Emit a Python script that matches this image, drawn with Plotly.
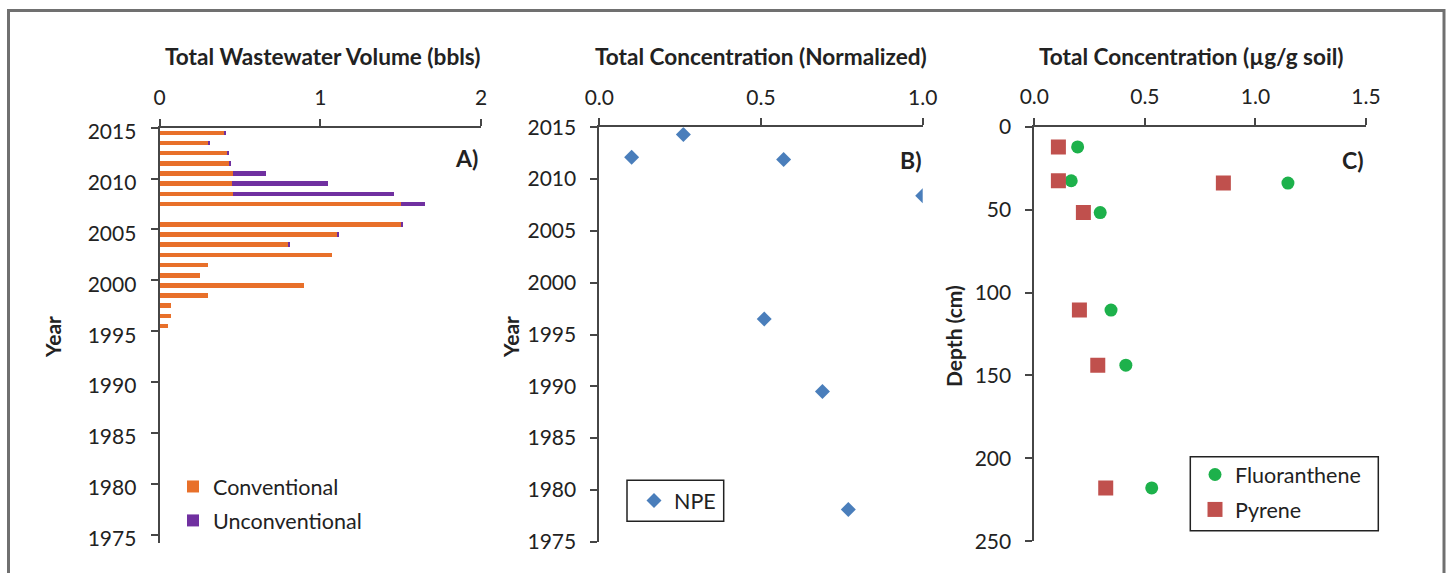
import plotly.graph_objects as go

# ---- Panel A: wastewater volume by year (bbls) ----
years_a = [1995, 1996, 1997, 1998, 1999, 2000, 2001, 2002, 2003, 2004, 2005,
           2007, 2008, 2009, 2010, 2011, 2012, 2013, 2014]
conventional = [0.05, 0.07, 0.07, 0.30, 0.90, 0.25, 0.30, 1.07, 0.80, 1.105, 1.505,
                1.50, 0.46, 0.45, 0.46, 0.43, 0.42, 0.30, 0.40]
unconventional = [0.0, 0.0, 0.0, 0.0, 0.0, 0.0, 0.0, 0.0, 0.01, 0.007, 0.007,
                  0.15, 1.00, 0.60, 0.20, 0.011, 0.011, 0.009, 0.01]

# ---- Panel B: normalized NPE concentration by year ----
npe_conc = [0.10, 0.26, 0.57, 1.00, 0.51, 0.69, 0.77]
npe_year = [2012.1, 2014.3, 2011.9, 2008.4, 1996.5, 1989.5, 1978.1]

# ---- Panel C: PAH concentration by depth ----
fluor_conc = [0.196, 0.167, 1.147, 0.298, 0.347, 0.414, 0.531]
pyrene_conc = [0.109, 0.109, 0.855, 0.222, 0.204, 0.287, 0.323]
depth_cm = [12.2, 32.6, 34.0, 51.8, 110.6, 143.8, 217.8]

titles = ["Total Wastewater Volume (bbls)", "Total Concentration (Normalized)",
          "Total Concentration (µg/g soil)"]

W, H = 1450, 573
FONT = "Lato"
TXT = "#222222"
AX = "#464646"
ORANGE = "#E8702A"
PURPLE = "#7030A0"
BLUE = "#4A7EBB"
GREEN = "#1DB14B"
RED = "#C0504D"


def px(x):
    return x / W


def py(y):
    return 1 - y / H


fig = go.Figure()

fig.add_trace(go.Bar(
    y=years_a, x=conventional, orientation="h", name="Conventional",
    marker=dict(color=ORANGE, line=dict(width=0)), width=0.45, offset=0.275,
    xaxis="x", yaxis="y", legend="legend", legendgroup="a1"))
fig.add_trace(go.Bar(
    y=years_a, x=unconventional, orientation="h", name="Unconventional",
    marker=dict(color=PURPLE, line=dict(width=0)), width=0.45, offset=0.275,
    xaxis="x", yaxis="y", legend="legend", legendgroup="a2"))

fig.add_trace(go.Scatter(
    x=npe_conc, y=npe_year, mode="markers", name="NPE",
    marker=dict(symbol="diamond", size=11.5, color=BLUE),
    xaxis="x2", yaxis="y2", legend="legend2"))

fig.add_trace(go.Scatter(
    x=fluor_conc, y=depth_cm, mode="markers", name="Fluoranthene",
    marker=dict(symbol="circle", size=13, color=GREEN),
    xaxis="x3", yaxis="y3", legend="legend3", legendgroup="c1"))
fig.add_trace(go.Scatter(
    x=pyrene_conc, y=depth_cm, mode="markers", name="Pyrene",
    marker=dict(symbol="square", size=15, color=RED),
    xaxis="x3", yaxis="y3", legend="legend3", legendgroup="c2"))

axis_common = dict(
    showline=True, linecolor=AX, linewidth=1.8, ticks="outside", ticklen=7,
    tickwidth=1.5, tickcolor=AX, showgrid=False, zeroline=False,
    tickfont=dict(family=FONT, size=21, color=TXT), ticklabelstandoff=10,
    fixedrange=True, automargin=False,
)
xaxis_common = dict(axis_common, ticklabelstandoff=5, side="top")

legend_common = dict(xanchor="left", yanchor="top", bgcolor="rgba(0,0,0,0)",
                     borderwidth=0, font=dict(family=FONT, size=21.5, color=TXT))

fig.update_layout(
    template="none",
    width=W, height=H, margin=dict(l=0, r=0, t=0, b=0, pad=0),
    paper_bgcolor="white", plot_bgcolor="white",
    barmode="stack", showlegend=True,
    font=dict(family=FONT, size=20, color=TXT),
    xaxis=dict(xaxis_common, domain=[px(159.5), px(481)], range=[0, 2], dtick=1,
               anchor="y"),
    yaxis=dict(axis_common, domain=[py(543), py(127.7)], range=[1974.18, 2015],
               dtick=5, tick0=1975, anchor="x", ticklabelshift=4),
    xaxis2=dict(xaxis_common, domain=[px(599.3), px(922.7)], range=[0, 1], dtick=0.5,
                tickformat=".1f", anchor="y2"),
    yaxis2=dict(axis_common, domain=[py(541.7), py(127.3)], range=[1975, 2015],
                dtick=5, tick0=1975, anchor="x2"),
    xaxis3=dict(xaxis_common, domain=[px(1034.3), px(1366)], range=[0, 1.5], dtick=0.5,
                tickformat=".1f", anchor="y3"),
    yaxis3=dict(axis_common, domain=[py(541.3), py(126.7)], range=[250, 0],
                dtick=50, anchor="x3"),
    legend=dict(legend_common, x=px(173), y=py(466), tracegroupgap=3),
    legend2=dict(legend_common, x=px(634), y=py(480)),
    legend3=dict(legend_common, x=px(1195), y=py(454), tracegroupgap=4),
)

annotations = []
for cx, t in zip([322.5, 760.8, 1191.7], titles):
    annotations.append(dict(x=px(cx), y=py(57), xref="paper", yref="paper",
                            text=f"<b>{t}</b>", showarrow=False,
                            xanchor="center", yanchor="middle",
                            font=dict(family=FONT, size=22.6, color=TXT)))
for cx, cy, t in [(52, 337, "Year"), (510, 337, "Year"), (953, 336, "Depth (cm)")]:
    annotations.append(dict(x=px(cx), y=py(cy), xref="paper", yref="paper",
                            text=f"<b>{t}</b>", textangle=-90, showarrow=False,
                            xanchor="center", yanchor="middle",
                            font=dict(family=FONT, size=21, color=TXT)))
for cx, cy, t in [(480, 158, "A)"), (923, 160, "B)"), (1366, 160, "C)")]:
    annotations.append(dict(x=px(cx), y=py(cy), xref="paper", yref="paper",
                            text=f"<b>{t}</b>", showarrow=False,
                            xanchor="right", yanchor="middle",
                            font=dict(family=FONT, size=23, color=TXT)))
fig.update_layout(annotations=annotations)

# outer frame, open at the bottom edge of the page
fig.add_shape(type="path", xref="paper", yref="paper",
              path=f"M {px(8.5)} {py(590)} L {px(8.5)} {py(10.5)} L {px(1444)} {py(10.5)} L {px(1444)} {py(590)}",
              line=dict(color="#707070", width=3))

# frames around the NPE and PAH legends
for x0, y0, x1, y1 in [(627, 480.3, 723.7, 521.3), (1190.3, 456.7, 1378.3, 530.7)]:
    fig.add_shape(type="rect", xref="paper", yref="paper",
                  x0=px(x0), x1=px(x1), y0=py(y1), y1=py(y0),
                  line=dict(color=TXT, width=1.5), fillcolor="rgba(0,0,0,0)")

fig.write_html("out.html", post_script="document.body.style.margin='0';")
